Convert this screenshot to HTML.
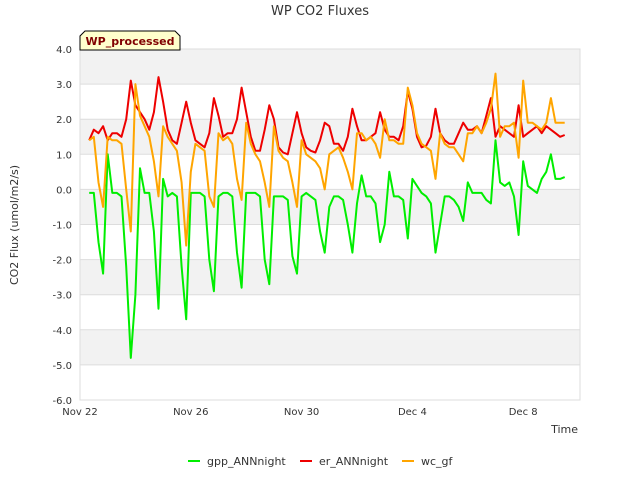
<!DOCTYPE html>
<html><head><meta charset="utf-8"><style>
body{margin:0;background:#fff;font-family:"Liberation Sans","DejaVu Sans",sans-serif}
svg text{font-family:"DejaVu Sans","Liberation Sans",sans-serif}
</style></head><body>
<svg id="chart" width="640" height="480" viewBox="0 0 640 480" xmlns="http://www.w3.org/2000/svg">
<rect width="640" height="480" fill="#fff"/>
<g id="bands"></g>
<g id="grid"></g>
<rect x="80" y="49" width="500" height="351" fill="none" stroke="#ddd"/>
<g id="yticks"></g><g id="xticks"></g>
<g id="series"></g>
<text x="320" y="15" text-anchor="middle" font-size="13" fill="#333">WP CO2 Fluxes</text>
<text transform="translate(18,225) rotate(-90)" text-anchor="middle" font-size="11" fill="#333">CO2 Flux (umol/m2/s)</text>
<text x="578" y="433" text-anchor="end" font-size="11" fill="#333">Time</text>
<g>
<path d="M80,50 L80,36 L85,31 L175,31 L180,36 L180,50 Z" fill="#ffffcc" stroke="#000" stroke-width="1"/>
<text x="130" y="45" text-anchor="middle" font-size="11" font-weight="bold" fill="#800000">WP_processed</text>
</g>
<g id="legend"></g>
</svg>
<script>
const yTicks=[4,3,2,1,0,-1,-2,-3,-4,-5,-6];
const xTickDays=[0,4,8,12,16];
const xTickLabels=["Nov 22","Nov 26","Nov 30","Dec 4","Dec 8"];
const seriesNames=["gpp_ANNnight","er_ANNnight","wc_gf"];
const seriesColors=["#00ee00","#ee0000","#ffa500"];
const tStart=1/3, tStep=1/6;
const gpp=[-0.1,-0.1,-1.5,-2.4,
1.0,-0.1,-0.1,-0.2,-2.2,-4.8,
-3.0,0.6,-0.1,-0.1,-1.2,-3.4,
0.3,-0.2,-0.1,-0.2,-2.2,-3.7,
-0.1,-0.1,-0.1,-0.2,-2.0,-2.9,
-0.2,-0.1,-0.1,-0.2,-1.8,-2.8,
-0.1,-0.1,-0.1,-0.2,-2.0,-2.7,
-0.2,-0.2,-0.2,-0.3,-1.9,-2.4,
-0.2,-0.1,-0.2,-0.3,-1.2,-1.8,
-0.5,-0.2,-0.2,-0.3,-1.0,-1.8,
-0.4,0.4,-0.2,-0.2,-0.4,-1.5,
-1.0,0.5,-0.2,-0.2,-0.3,-1.4,
0.3,0.1,-0.1,-0.2,-0.4,-1.8,
-1.0,-0.2,-0.2,-0.3,-0.5,-0.9,
0.2,-0.1,-0.1,-0.1,-0.3,-0.4,
1.4,0.2,0.1,0.2,-0.2,-1.3,
0.8,0.1,0.0,-0.1,0.3,0.5,
1.0,0.3,0.3,0.35];
const er=[1.4,1.7,1.6,1.8,
1.4,1.6,1.6,1.5,2.0,3.1,
2.4,2.2,2.0,1.7,2.2,3.2,
2.5,1.7,1.4,1.3,1.9,2.5,
1.9,1.4,1.3,1.2,1.6,2.6,
2.1,1.5,1.6,1.6,2.0,2.9,
2.2,1.5,1.1,1.1,1.7,2.4,
2.0,1.2,1.05,1.0,1.6,2.2,
1.6,1.2,1.1,1.05,1.4,1.9,
1.8,1.3,1.3,1.1,1.5,2.3,
1.8,1.4,1.4,1.5,1.6,2.2,
1.7,1.5,1.5,1.4,1.8,2.8,
2.3,1.5,1.2,1.25,1.5,2.3,
1.6,1.4,1.3,1.3,1.6,1.9,
1.7,1.7,1.8,1.6,2.1,2.6,
1.5,1.8,1.7,1.6,1.5,2.4,
1.5,1.6,1.7,1.8,1.6,1.8,
1.7,1.6,1.5,1.55];
const wc=[1.4,1.5,0.2,-0.5,
1.5,1.4,1.4,1.3,0.0,-1.2,
3.0,2.1,1.8,1.5,0.8,-0.2,
1.8,1.5,1.3,1.1,0.2,-1.6,
0.5,1.3,1.2,1.1,-0.2,-0.5,
1.6,1.4,1.5,1.3,0.3,-0.3,
1.9,1.3,1.0,0.8,0.2,-0.5,
1.8,1.1,0.9,0.8,0.2,-0.5,
1.4,1.0,0.9,0.8,0.6,0.0,
1.0,1.1,1.2,0.9,0.5,0.0,
1.6,1.6,1.4,1.5,1.3,0.9,
2.0,1.4,1.4,1.3,1.3,2.9,
2.4,1.6,1.3,1.2,1.1,0.3,
1.6,1.3,1.2,1.2,1.0,0.8,
1.6,1.6,1.8,1.6,1.9,2.3,
3.3,1.5,1.8,1.8,1.9,0.9,
3.1,1.9,1.9,1.8,1.7,1.9,
2.6,1.9,1.9,1.9];
const NS="http://www.w3.org/2000/svg";
const X0=80,X1=580,Y0=49,Y1=400,dayPx=27.7,yMin=-6,yMax=4;
function xs(t){return X0+t*dayPx;}
function ys(v){return Y0+(yMax-v)*(Y1-Y0)/(yMax-yMin);}
function mk(tag,attrs,parent){const e=document.createElementNS(NS,tag);for(const k in attrs)e.setAttribute(k,attrs[k]);parent.appendChild(e);return e;}
const bands=document.getElementById('bands'),grid=document.getElementById('grid'),yt=document.getElementById('yticks'),xt=document.getElementById('xticks');
for(let i=0;i<yTicks.length-1;i++){
  if(i%2===0){const r=mk('rect',{x:X0,y:ys(yTicks[i]),width:X1-X0,height:ys(yTicks[i+1])-ys(yTicks[i]),fill:'#f2f2f2'},bands);
  
  }
}
yTicks.forEach(v=>{
  const l=mk('line',{x1:X0,x2:X1,y1:ys(v),y2:ys(v),stroke:'#ddd'},grid);
  
  
  const t=mk('text',{x:72,y:ys(v)+4,'text-anchor':'end','font-size':10,fill:'#333'},yt);
  t.textContent=v.toFixed(1);
  
  
});
xTickDays.forEach((d,i)=>{
  const t=mk('text',{x:xs(d),y:415,'text-anchor':'middle','font-size':10,fill:'#333'},xt);
  t.textContent=xTickLabels[i];
  
  
});
const ser=document.getElementById('series');
[gpp,er,wc].forEach((arr,si)=>{
  const pts=arr.map((v,i)=>xs(tStart+i*tStep).toFixed(1)+','+ys(v).toFixed(1)).join(' ');
  const p=mk('polyline',{points:pts,fill:'none',stroke:seriesColors[si],'stroke-width':2,'stroke-linejoin':'round'},ser);
  
  
});
const leg=document.getElementById('legend');
const legX=[188,300,402];
seriesNames.forEach((n,i)=>{
  const g=mk('g',{},leg);
  
  
  mk('line',{x1:legX[i],x2:legX[i]+12,y1:461,y2:461,stroke:seriesColors[i],'stroke-width':2},g);
  const t=mk('text',{x:legX[i]+19,y:465,'font-size':11,fill:'#333'},g);
  t.textContent=n;
});
</script>
</body></html>
